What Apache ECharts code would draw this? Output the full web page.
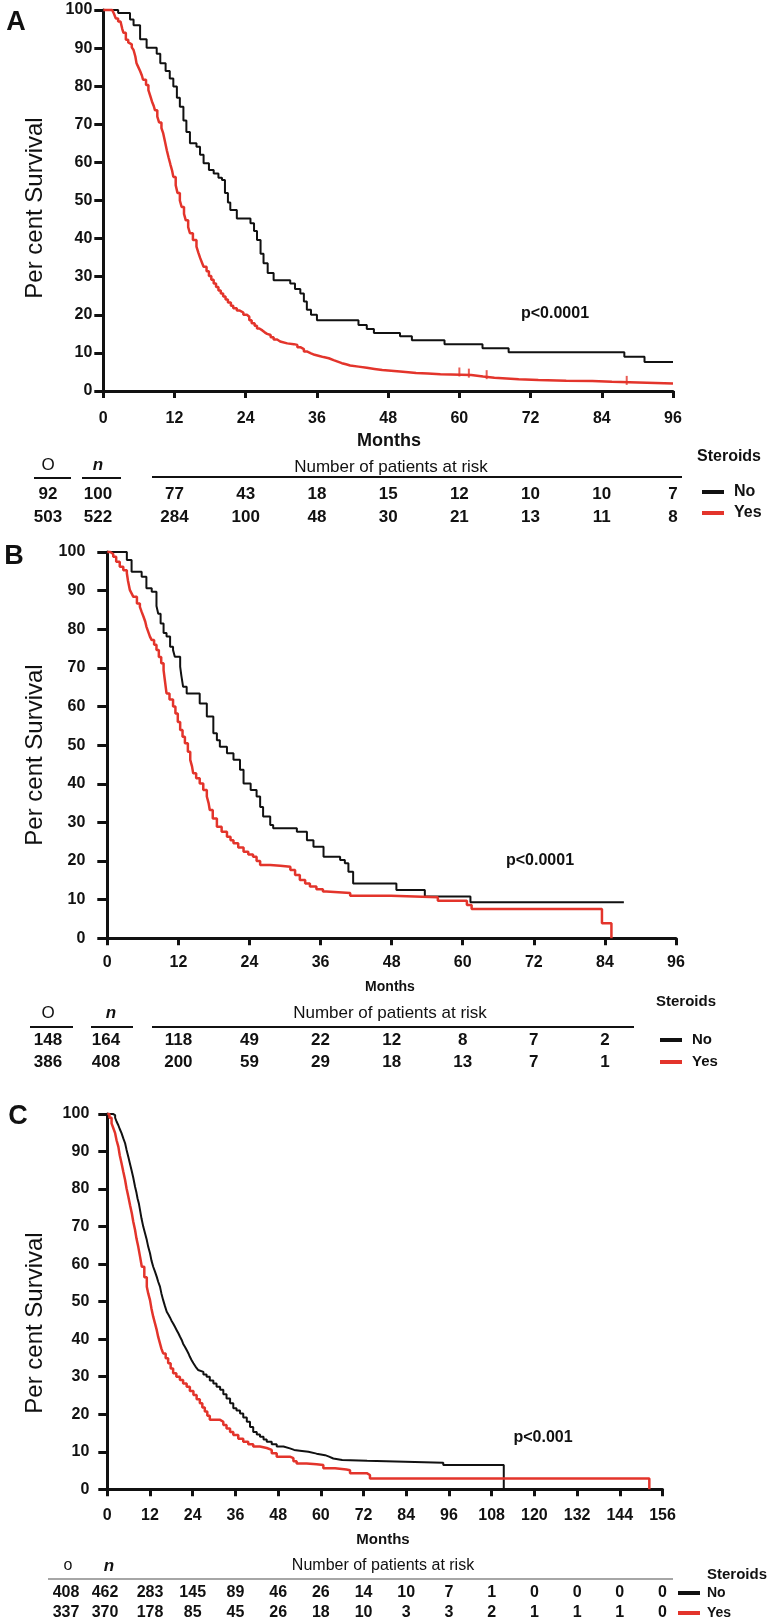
<!DOCTYPE html>
<html><head><meta charset="utf-8">
<script src="https://cdn.jsdelivr.net/npm/echarts@6/dist/echarts.min.js"></script>
<style>html,body{margin:0;padding:0;background:#fff}#c{width:767px;height:1624px}</style>
</head><body><div id="c"></div>
<script>
const FONT = '"Liberation Sans", Arial, sans-serif';
const BLACK = '#111111';
const RED = '#e3342b';

// ---------- Panel A ----------
const aNo = [[0,100],[2.5,99.2],[4.5,97.5],[5.1,96],[6.2,92.3],[7.3,90.1],[9.0,88.5],[9.6,86],[10.5,84],[11.2,82],[11.8,79.9],[12.4,77],[12.9,74.6],[13.5,71],[14,68],[14.6,65],[15.7,64.1],[16.3,62],[16.9,59.8],[17.8,58],[18.6,57.1],[19.4,56],[20,55.4],[20.5,52],[21,49.5],[21.4,47.5],[22.5,45.3],[24.8,44],[25.4,42],[25.9,39.6],[26.5,36],[27,33.5],[27.7,31],[28.7,29.1],[31.5,28.2],[32.3,26.8],[33.2,25.6],[33.8,23.5],[34.3,21.3],[35,20],[36,18.6],[43,17.3],[44.4,16.3],[45.6,15.2],[50,14.4],[52,13.3],[57.5,12.3],[63.9,11.2],[68.3,10.2],[87.8,9.0],[91.2,7.6],[96,7.6]];
const aYes = [[0,100],[1.5,100],[1.8,99],[2.1,97.8],[2.5,97],[2.9,96.5],[3.2,95],[3.4,94],[3.8,92.2],[4.2,91.5],[4.5,91],[4.8,90.2],[5.1,89.5],[5.4,87.8],[5.6,86],[5.9,85],[6.2,84],[6.5,82.8],[6.7,81.7],[7.2,80.3],[7.6,79],[7.9,77.5],[8.2,76],[8.5,74.8],[8.7,73.7],[9.1,72],[9.4,70.5],[9.8,69],[10.1,67.6],[10.4,65.4],[10.7,63.2],[11,61.3],[11.3,59.5],[11.6,57.8],[11.8,56.2],[12.2,54],[12.5,52],[12.9,50],[13.2,48.3],[13.6,46.5],[13.9,44.8],[14.3,43],[14.6,41.4],[15.1,39.6],[15.7,37.9],[16,36.4],[16.3,35],[16.6,33.8],[16.9,32.6],[17.4,31.4],[17.8,30.2],[18.2,29.2],[18.6,28.2],[19,27.3],[19.4,26.4],[19.8,25.6],[20.2,24.8],[20.6,24],[21,23.2],[21.5,22.4],[21.9,21.7],[22.5,21.1],[23,20.6],[23.6,20],[24.2,19.5],[24.6,18.6],[25,17.8],[25.5,17.1],[25.9,16.4],[26.3,15.9],[26.8,15.4],[27.2,15],[27.6,14.7],[28.2,14.1],[28.7,13.5],[29.3,13],[29.8,12.5],[31,12.3],[32.1,12.1],[32.7,11.5],[33.2,11],[33.8,10.4],[34.3,9.9],[35,9.5],[35.6,9.2],[36.4,8.9],[37.1,8.6],[38,8.1],[38.8,7.7],[39.5,7.3],[40.2,7],[40.9,6.7],[41.6,6.4],[43,6.1],[44.4,5.8],[45.7,5.5],[47,5.3],[48.5,5.1],[50,4.9],[51.4,4.7],[52.7,4.6],[54.7,4.4],[56.8,4.2],[62,3.8],[64,3.5],[65.9,3.1],[70,2.9],[73.3,2.7],[78,2.6],[82.4,2.4],[85.7,2.0],[96,2.0]];
const aYesCensored = [[60,4.2],[61.6,3.9],[64.6,3.5],[88.2,2.0]];
const aRiskMonths = [12,24,36,48,60,72,84,96];
const aRiskNo = [77,43,18,15,12,10,10,7];
const aRiskYes = [284,100,48,30,21,13,11,8];
const aObsN_No = [92,100];
const aObsN_Yes = [503,522];

// ---------- Panel B ----------
const bNo = [[0,100],[2.7,100],[3.3,97.9],[4.1,94.9],[5.8,93.6],[6.6,90.6],[7.5,89.7],[8.3,86],[8.6,84],[9.0,81.5],[9.5,79],[10,78.1],[10.6,75.5],[11.1,74.6],[11.4,72.9],[12.3,70.3],[12.5,68],[12.8,65.1],[13.4,63.4],[15.6,60.8],[16.8,57.4],[17.9,53.1],[18.5,51.3],[19,49.6],[20.2,47.9],[21.3,46.2],[22.4,43.6],[23,40.1],[24.2,38.4],[25.2,36.7],[25.8,34],[26.3,31.5],[27.5,29.3],[28,28.5],[32,27.6],[33.7,25.4],[34.8,23.7],[36.5,21.1],[39.3,20.3],[40.1,19.4],[40.7,17.2],[41.5,14.2],[48.8,12.5],[53.6,10.8],[61.3,9.3],[87.2,9.3]];
const bYes = [[0,100],[0.5,99.5],[1,98.8],[1.5,97.5],[2.1,96.2],[2.7,95.3],[3.3,94.5],[3.5,92.5],[3.8,90.2],[4.1,89.3],[4.4,88.4],[5,86.7],[5.5,85.8],[5.8,84.5],[6.1,83.3],[6.4,82],[6.6,80.7],[6.9,79.4],[7.2,78.1],[7.5,77.2],[7.9,76],[8.3,74.6],[8.7,72.8],[9.1,71.2],[9.5,69.4],[9.7,67],[10,63.4],[10.5,61.8],[11.1,60],[11.5,58.2],[11.9,56],[12.3,53.9],[12.7,52.2],[13.1,50.5],[13.6,48.3],[14,46.2],[14.3,44.5],[14.5,42.7],[15,41.4],[15.6,40.1],[16.2,38.4],[16.8,36.7],[17.1,35],[17.3,33.2],[17.8,31],[18.5,28.9],[19.3,27.6],[20.2,26.3],[20.8,25.4],[21.3,24.6],[22.1,23.5],[23,22.4],[23.8,21.7],[24.6,21.1],[25.2,20],[25.8,19],[27.5,18.8],[29.2,18.5],[30.9,17.7],[31.7,16.4],[32.5,15.1],[33.4,14.2],[34.2,13.4],[35.3,12.7],[36.4,12.1],[37,11.7],[41,11],[47.9,10.6],[55.8,9.7],[60.7,8.6],[61.5,7.6],[83.5,3.9],[85.1,0]];
const bRiskMonths = [12,24,36,48,60,72,84];
const bRiskNo = [118,49,22,12,8,7,2];
const bRiskYes = [200,59,29,18,13,7,1];
const bObsN_No = [148,164];
const bObsN_Yes = [386,408];

// ---------- Panel C ----------
const cNo = [[0,100],[1,100],[1.6,99.7],[2.2,99],[2.6,98],[3.1,97],[3.5,96],[4,94.9],[4.5,93.5],[5,92.2],[5.4,90.5],[5.9,88.6],[6.3,87],[6.8,85.1],[7.3,83],[7.8,80.6],[8.2,79],[8.5,77.5],[8.9,76],[9.2,74.4],[9.6,72.2],[10.1,70],[10.6,68.2],[11.1,66.4],[11.5,64.6],[12,62.9],[12.4,61],[12.9,59.3],[13.4,58],[13.9,56.6],[14.3,55.3],[14.8,54],[15.2,52.2],[15.7,50.4],[16.2,48.8],[16.7,47.3],[17.2,46.5],[17.6,45.8],[18,45],[18.5,44.2],[19,43.3],[19.5,42.4],[20,41.5],[20.4,40.7],[20.9,39.8],[21.3,38.8],[21.8,38],[22.3,37.1],[22.8,36.2],[23.2,35.3],[23.7,34.4],[24.2,33.6],[24.6,33],[25,32.4],[25.5,31.8],[26,31.3],[27,30.6],[27.9,30],[28.8,29],[29.8,28.2],[30.7,27.3],[31.7,26.5],[32.6,25.3],[33.5,24.2],[34.5,22.9],[35.4,21.6],[36.3,21],[37.3,20.2],[38.2,19.1],[39.2,18],[40.1,16.6],[41,15.3],[42,14.6],[42.9,14],[43.9,13.3],[44.8,12.7],[46.2,12],[47.6,11.4],[49.5,10.9],[51.3,10.5],[52.5,10.3],[54.1,10],[56.5,9.5],[58.8,9.1],[61.2,8.7],[62.3,8.2],[63.5,7.8],[66,7.6],[73,7.1],[94.4,6.5],[111.4,0]];
const cYes = [[0,100],[0.6,99],[1.2,97.5],[1.7,96.2],[2.2,94.9],[2.6,93],[3.1,91.3],[3.5,89],[4,86.9],[4.5,84.6],[5,82.4],[5.4,80.2],[5.9,78],[6.4,75.7],[6.9,73.5],[7.3,71.3],[7.8,69.1],[8.2,66.8],[8.7,64.6],[9.2,62],[9.7,59.3],[10.4,56.5],[11.1,54],[11.5,52.2],[12,50.4],[12.4,48.2],[12.9,46],[13.4,44.2],[13.9,42.4],[14.3,40.6],[14.8,38.9],[15.2,37.5],[15.7,36.2],[16.4,34.9],[17.1,33.6],[17.8,32.2],[18.5,30.9],[19.4,30],[20.4,29.1],[21.3,28.2],[22.3,27.3],[23.2,26.2],[24.2,25.1],[25.1,24],[26,22.9],[26.7,21.8],[27.4,20.7],[28.1,19.6],[28.8,18.5],[31.7,18],[32.6,17.1],[33.5,16.2],[34.5,15.3],[35.4,14.5],[36.8,13.5],[38.2,12.7],[39.6,12],[41,11.4],[42.9,11],[44.8,10.5],[46.2,9.6],[47.6,8.7],[51.3,8.3],[52.3,7.5],[53.2,6.9],[56,6.7],[58.8,6.5],[60.7,5.6],[64,5.3],[67.2,5.1],[68.2,4.3],[72.9,3.8],[73.8,2.9],[152.3,0]];
const cRiskMonths = [12,24,36,48,60,72,84,96,108,120,132,144,156];
const cRiskNo = [283,145,89,46,26,14,10,7,1,0,0,0,0];
const cRiskYes = [178,85,45,26,18,10,3,3,2,1,1,1,0];
const cObsN_No = [408,462];
const cObsN_Yes = [337,370];

const chart = echarts.init(document.getElementById('c'), null, {renderer: 'canvas'});

function xAx(grid, max, margin, fs) {
  return {
    type: 'value', gridIndex: grid, min: 0, max: max, interval: 12,
    axisLine: {onZero: false, lineStyle: {color: BLACK, width: 3}},
    axisTick: {show: true, length: 7, lineStyle: {color: BLACK, width: 3}},
    axisLabel: {color: BLACK, fontFamily: FONT, fontWeight: 'bold', fontSize: fs, margin: margin},
    splitLine: {show: false}
  };
}
function yAx(grid, margin, tickLen, fs) {
  return {
    type: 'value', gridIndex: grid, min: 0, max: 100, interval: 10,
    axisLine: {onZero: false, lineStyle: {color: BLACK, width: 3}},
    axisTick: {show: true, length: tickLen, lineStyle: {color: BLACK, width: 3}},
    axisLabel: {color: BLACK, fontFamily: FONT, fontWeight: 'bold', fontSize: fs, margin: margin},
    splitLine: {show: false}
  };
}
function curve(data, idx, color, w) {
  return {type: 'line', step: 'end', data: data, xAxisIndex: idx, yAxisIndex: idx,
    symbol: 'none', clip: false, lineStyle: {color: color, width: w}, z: 3};
}

chart.setOption({
  animation: false,
  backgroundColor: '#ffffff',
  grid: [
    {left: 103.3, top: 10, width: 569.7, height: 381},
    {left: 107.3, top: 552, width: 568.7, height: 386.3},
    {left: 107.3, top: 1114, width: 555.2, height: 375.3}
  ],
  xAxis: [xAx(0, 96, 20, 16), xAx(1, 96, 16, 16), xAx(2, 156, 18, 16)],
  yAxis: [yAx(0, 11, 9, 16), yAx(1, 22, 10, 16), yAx(2, 18, 9, 16)],
  series: [
    curve(aNo, 0, BLACK, 2), curve(aYes, 0, RED, 2.5),
    {type: 'scatter', data: aYesCensored, xAxisIndex: 0, yAxisIndex: 0, symbol: 'rect',
     symbolSize: [2, 9], symbolOffset: [0, -3], itemStyle: {color: RED}, z: 4},
    curve(bNo, 1, BLACK, 2), curve(bYes, 1, RED, 2.5),
    curve(cNo, 2, BLACK, 2), curve(cYes, 2, RED, 2.5)
  ]
});

function txt(t, x, y, size, weight, align, extra) {
  const st = {text: String(t), x: 0, y: 0, fill: BLACK, fontFamily: FONT, fontSize: size,
    fontWeight: weight || 'normal', align: align || 'center', verticalAlign: 'middle'};
  if (extra) Object.assign(st, extra);
  return {type: 'text', x: x, y: y, style: st, z: 10};
}
function ln(x1, y1, x2, y2, color, w) {
  return {type: 'line', shape: {x1: x1, y1: y1, x2: x2, y2: y2},
    style: {stroke: color || BLACK, lineWidth: w || 2}, z: 10};
}
function yTitle(x, y) {
  return {type: 'text', x: x, y: y, rotation: Math.PI / 2,
    style: {text: 'Per cent Survival', x: 0, y: 0, fill: BLACK, fontFamily: FONT, fontSize: 24,
      align: 'center', verticalAlign: 'middle'}, z: 10};
}
function risk(axis, months, rNo, rYes, yNo, yYes, size) {
  const out = [];
  months.forEach(function (m, i) {
    const x = chart.convertToPixel({xAxisIndex: axis}, m);
    out.push(txt(rNo[i], x, yNo, size, 'bold'));
    out.push(txt(rYes[i], x, yYes, size, 'bold'));
  });
  return out;
}

let g = [];
// Panel A
g.push(txt('A', 16, 23, 27, 'bold'));
g.push(yTitle(35, 208));
g.push(txt('Months', 389, 441, 18, 'bold'));
g.push(txt('p<0.0001', 555, 314, 16, 'bold'));
g.push(txt('O', 48, 465, 17));
g.push(ln(34, 478, 71, 478));
g.push(txt('n', 98, 465, 17, 'bold', 'center', {fontStyle: 'italic'}));
g.push(ln(82, 478, 121, 478));
g.push(txt('Number of patients at risk', 391, 467, 17));
g.push(ln(152, 477, 682, 477));
g.push(txt(aObsN_No[0], 48, 494, 17, 'bold'));
g.push(txt(aObsN_No[1], 98, 494, 17, 'bold'));
g.push(txt(aObsN_Yes[0], 48, 517, 17, 'bold'));
g.push(txt(aObsN_Yes[1], 98, 517, 17, 'bold'));
g = g.concat(risk(0, aRiskMonths, aRiskNo, aRiskYes, 494, 517, 17));
g.push(txt('Steroids', 697, 457, 16, 'bold', 'left'));
g.push(ln(702, 492, 724, 492, BLACK, 4));
g.push(txt('No', 734, 492, 16, 'bold', 'left'));
g.push(ln(702, 513, 724, 513, RED, 4));
g.push(txt('Yes', 734, 513, 16, 'bold', 'left'));

// Panel B
g.push(txt('B', 14, 557, 27, 'bold'));
g.push(yTitle(35, 755));
g.push(txt('Months', 390, 987, 14, 'bold'));
g.push(txt('p<0.0001', 540, 861, 16, 'bold'));
g.push(txt('O', 48, 1013, 17));
g.push(ln(30, 1027, 73, 1027));
g.push(txt('n', 111, 1013, 17, 'bold', 'center', {fontStyle: 'italic'}));
g.push(ln(91, 1027, 133, 1027));
g.push(txt('Number of patients at risk', 390, 1013, 17));
g.push(ln(152, 1027, 634, 1027));
g.push(txt(bObsN_No[0], 48, 1040, 17, 'bold'));
g.push(txt(bObsN_No[1], 106, 1040, 17, 'bold'));
g.push(txt(bObsN_Yes[0], 48, 1062, 17, 'bold'));
g.push(txt(bObsN_Yes[1], 106, 1062, 17, 'bold'));
g = g.concat(risk(1, bRiskMonths, bRiskNo, bRiskYes, 1040, 1062, 17));
g.push(txt('Steroids', 656, 1002, 15, 'bold', 'left'));
g.push(ln(660, 1040, 682, 1040, BLACK, 4));
g.push(txt('No', 692, 1040, 15, 'bold', 'left'));
g.push(ln(660, 1062, 682, 1062, RED, 4));
g.push(txt('Yes', 692, 1062, 15, 'bold', 'left'));

// Panel C
g.push(txt('C', 18, 1117, 27, 'bold'));
g.push(yTitle(35, 1323));
g.push(txt('Months', 383, 1540, 15, 'bold'));
g.push(txt('p<0.001', 543, 1438, 16, 'bold'));
g.push(txt('o', 68, 1566, 16));
g.push(txt('n', 109, 1566, 17, 'bold', 'center', {fontStyle: 'italic'}));
g.push(txt('Number of patients at risk', 383, 1566, 16));
g.push(ln(48, 1579, 673, 1579, '#888888', 1.5));
g.push(txt(cObsN_No[0], 66, 1593, 16, 'bold'));
g.push(txt(cObsN_No[1], 105, 1593, 16, 'bold'));
g.push(txt(cObsN_Yes[0], 66, 1613, 16, 'bold'));
g.push(txt(cObsN_Yes[1], 105, 1613, 16, 'bold'));
g = g.concat(risk(2, cRiskMonths, cRiskNo, cRiskYes, 1593, 1613, 16));
g.push(txt('Steroids', 707, 1575, 15, 'bold', 'left'));
g.push(ln(678, 1593, 700, 1593, BLACK, 4));
g.push(txt('No', 707, 1593, 14, 'bold', 'left'));
g.push(ln(678, 1613, 700, 1613, RED, 4));
g.push(txt('Yes', 707, 1613, 14, 'bold', 'left'));

chart.setOption({graphic: g});
</script>
</body></html>
